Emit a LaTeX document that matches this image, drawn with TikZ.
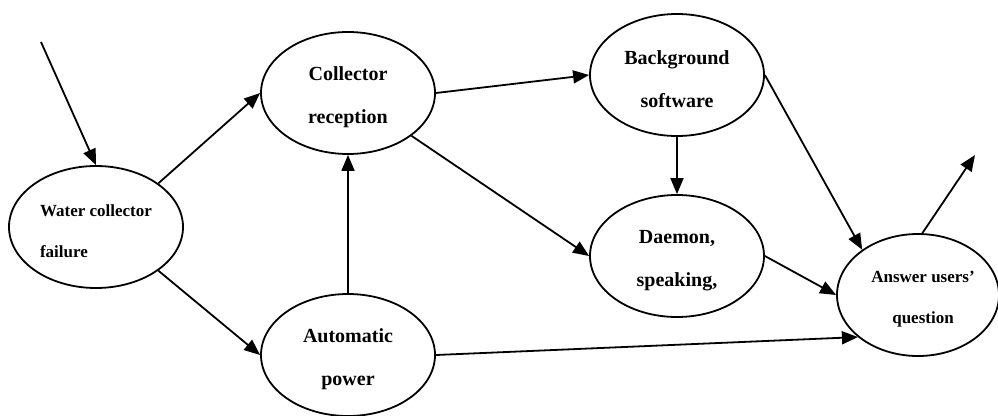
\documentclass[tikz,border=0pt]{standalone}
\usepackage{fontspec}
\setmainfont{Liberation Serif}
\usetikzlibrary{shapes.geometric,arrows.meta}
\newcommand{\bigst}{\rule{0pt}{22pt}}
\newcommand{\smst}{\rule{0pt}{20pt}}
\tikzset{
  bub/.style={draw=black, line width=1.8pt, ellipse, inner sep=0pt,
    minimum width=174pt, minimum height=122pt, align=center,
    font=\bfseries\fontsize{20}{43}\selectfont},
  small/.style={font=\bfseries\fontsize{17}{41}\selectfont},
  conn/.style={line width=1.8pt, -{Triangle[length=16pt,width=13pt]}}
}
\begin{document}
\begin{tikzpicture}[x=1pt,y=-1pt]
\useasboundingbox (0,0) rectangle (998,415);
\node[bub, small, align=left] (w) at (96,227) {\smst Water collector\\failure};
\node[bub] (c) at (348,93) {\bigst Collector\\reception};
\node[bub] (b) at (677,75) {\bigst Background\\software};
\node[bub] (d) at (677,256) {\bigst Daemon,\\speaking,};
\node[bub] (a) at (348,355) {\bigst Automatic\\power};
\node[bub, small, minimum width=162pt] (q) at (918,295)
  {\smst\hspace*{10pt}Answer users’\\\hspace*{10pt}question};
\coordinate (in) at (41,42);
\coordinate (out) at (975,155);
\draw[conn] (in) -- (w.north);
\draw[conn] (w.35) -- (c.west);
\draw[conn] (w.-35) -- (a.west);
\draw[conn] (a.north) -- (c.south);
\draw[conn] (c.east) -- (b.west);
\draw[conn] (c.-34) -- (d.west);
\draw[conn] (b.south) -- (d.north);
\draw[conn] (b.east) -- (q.141);
\draw[conn] (d.east) -- (q.west);
\draw[conn] (a.east) -- (q.215);
\draw[conn] (q.86) -- (out);
\end{tikzpicture}
\end{document}
